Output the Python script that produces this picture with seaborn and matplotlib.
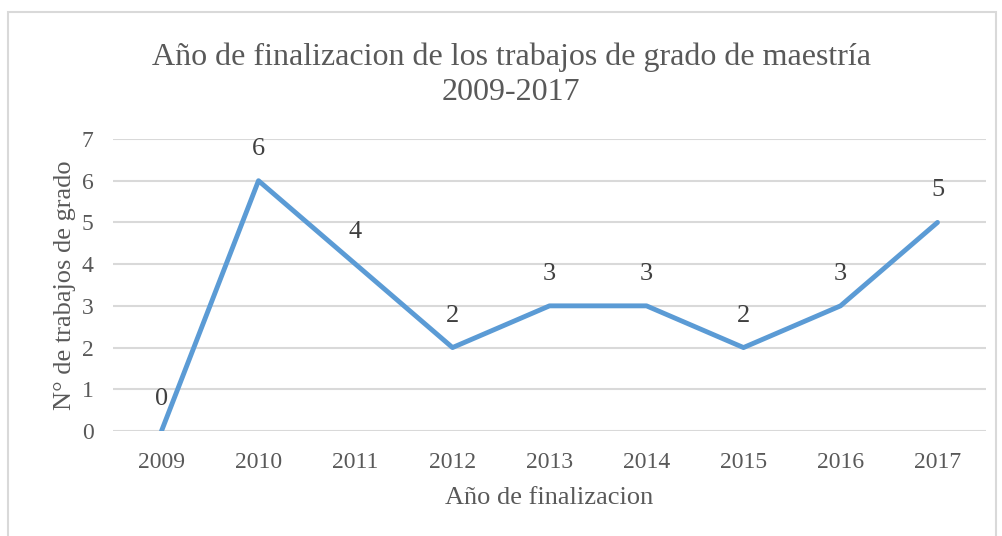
import matplotlib
matplotlib.use("Agg")
import matplotlib.pyplot as plt
import seaborn as sns
from matplotlib.patches import Rectangle

years = ["2009", "2010", "2011", "2012", "2013", "2014", "2015", "2016", "2017"]
trabajos = [0, 6, 4, 2, 3, 3, 2, 3, 5]

sns.set_theme(style="white")
plt.rcParams["font.family"] = ["Liberation Serif", "DejaVu Serif"]
txt = "#595959"

W, H = 1002, 536
fig = plt.figure(figsize=(W / 100, H / 100), dpi=100)
ax = fig.add_axes([113 / W, (H - 431) / H, (986 - 113) / W, (431 - 139) / H])

xs = list(range(len(years)))
sns.lineplot(x=xs, y=trabajos, ax=ax, color="#5B9BD5", linewidth=3.5)

for x, v in zip(xs, trabajos):
    ax.annotate(str(v), (x, v), xytext=(0, 23), textcoords="offset points",
                ha="center", va="center", fontsize=19, color="#404040")

ax.set_xlim(-0.5, len(years) - 0.5)
ax.set_ylim(0, 7)
ax.set_yticks(range(8))
ax.set_xticks(xs)
ax.set_xticklabels(years)
ax.tick_params(axis="both", labelsize=17, colors=txt, length=0)
ax.tick_params(axis="x", pad=15)
ax.tick_params(axis="y", pad=14)
ax.grid(axis="y", color="#D9D9D9", linewidth=1.5)
for s in ax.spines.values():
    s.set_visible(False)

ax.set_xlabel("Año de finalizacion", fontsize=19, color=txt, labelpad=10)
ax.set_ylabel("N° de trabajos de grado", fontsize=19, color=txt, labelpad=4)
fig.text(511 / W, 1 - 75 / H, "Año de finalizacion de los trabajos de grado de maestría\n2009-2017",
         ha="center", va="center", fontsize=23, color=txt, linespacing=1.25)

fig.patches.append(Rectangle((8 / W, -0.01), (996 - 8) / W, 1 - 12 / H + 0.01,
                             transform=fig.transFigure, fill=False,
                             edgecolor="#D9D9D9", linewidth=1.5))

fig.savefig("out.png", dpi=100)
